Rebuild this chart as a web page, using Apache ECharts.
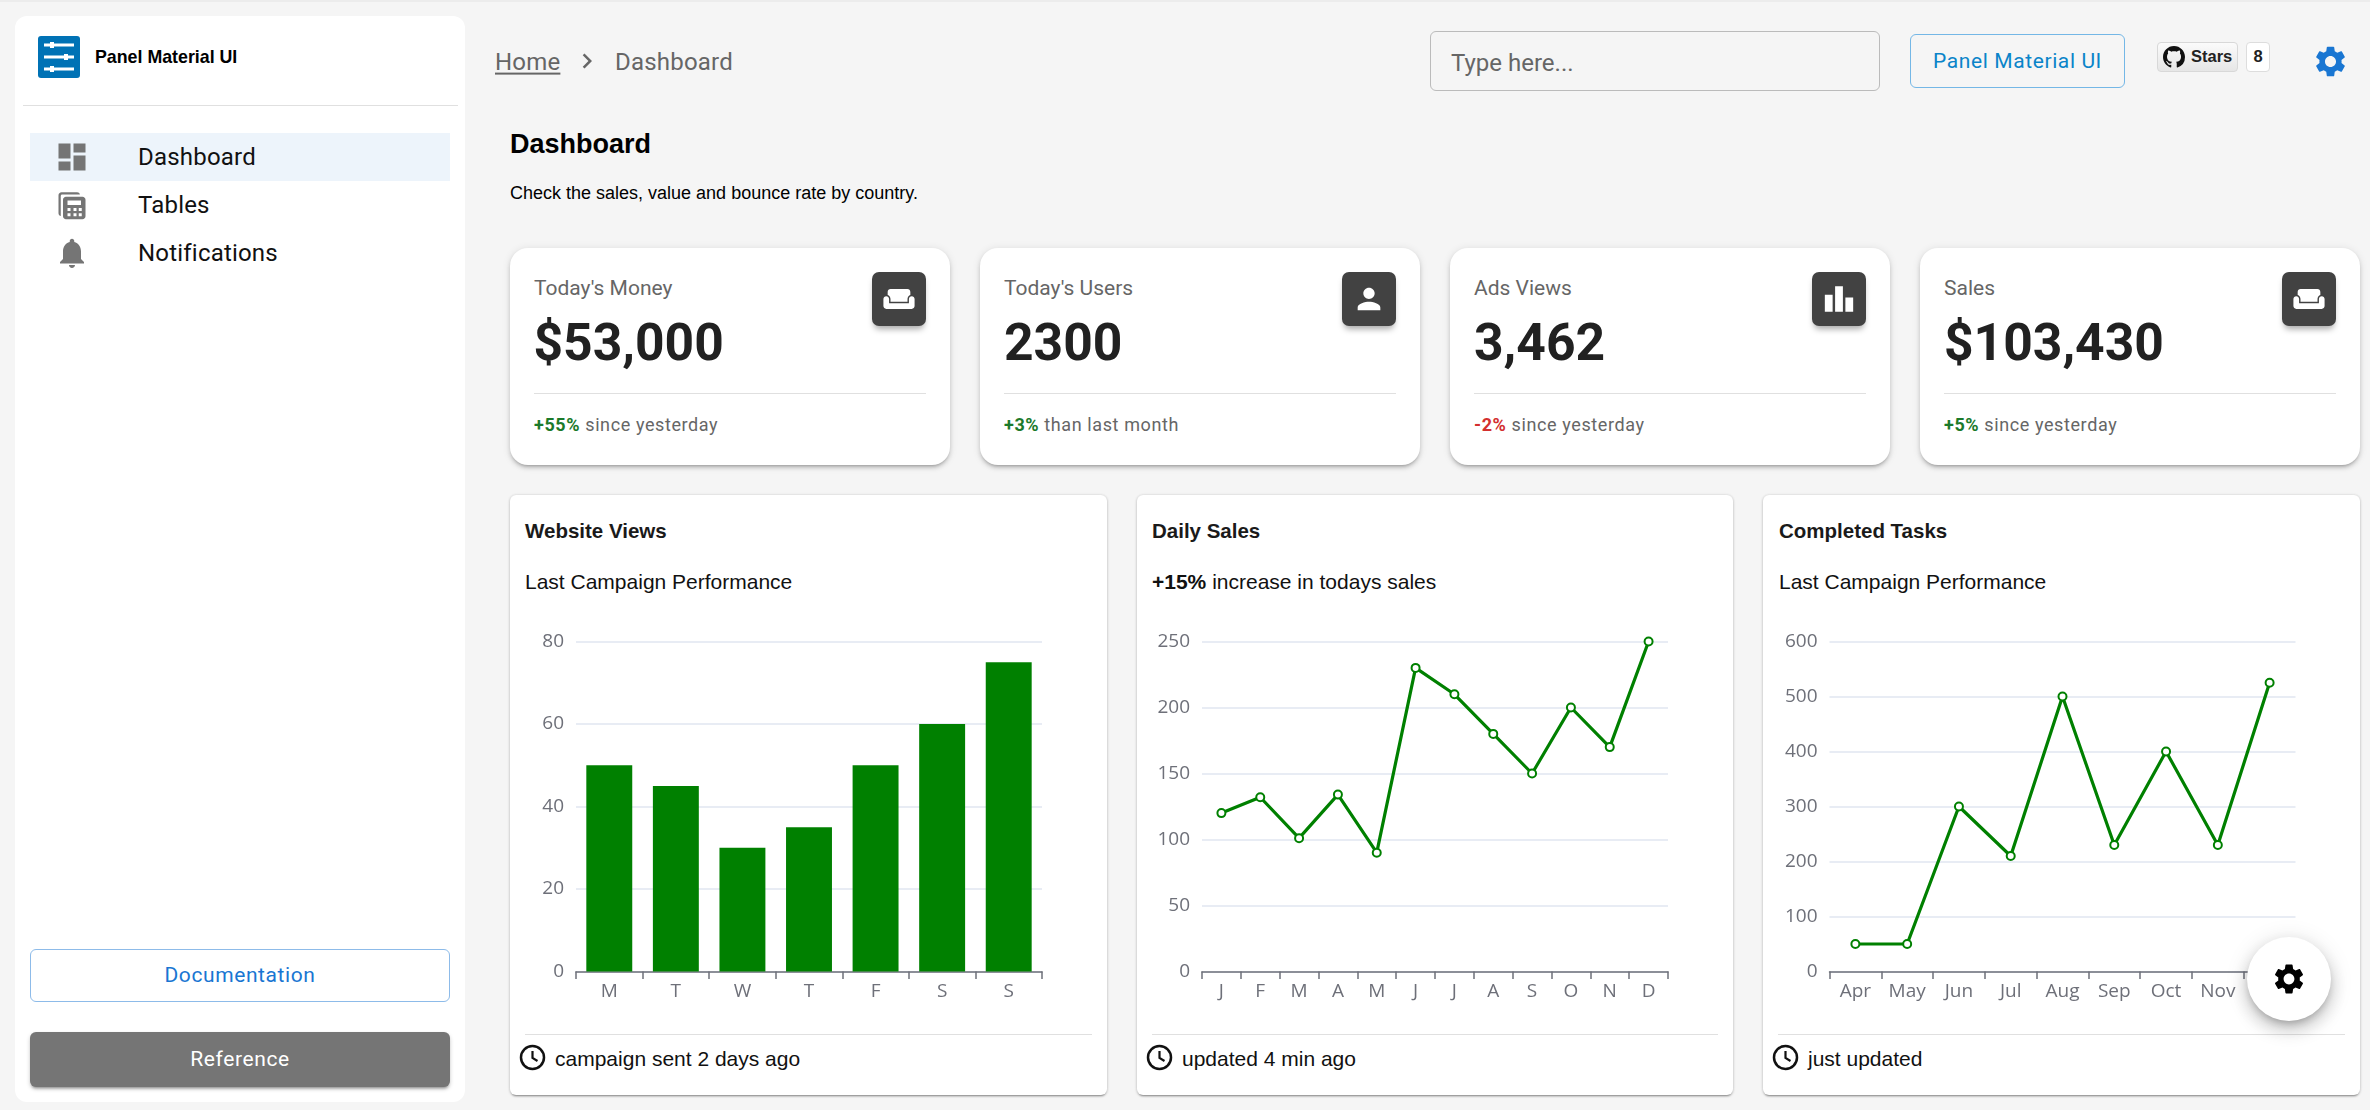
<!DOCTYPE html>
<html><head><meta charset="utf-8"><title>Dashboard</title>
<script src="https://cdn.jsdelivr.net/npm/echarts@6/dist/echarts.min.js"></script>
<style>
html,body{margin:0;padding:0;width:2370px;height:1110px;overflow:hidden;background:#f5f5f5;font-family:Roboto,sans-serif}
#top{position:absolute;left:0;top:0;width:2370px;height:2px;background:#ececec}
.a{position:absolute}
.t{position:absolute;white-space:nowrap;transform:translateY(-50%);line-height:1.2}
.ar{font-family:"Liberation Sans",Arial,sans-serif}
.box{position:absolute;background:#fff;box-sizing:border-box}
.stat{top:248px;height:217px;width:440px;border-radius:18px;box-shadow:0 3px 3px -2px rgba(0,0,0,.22),0 3px 4px 0 rgba(0,0,0,.14),0 1px 8px 0 rgba(0,0,0,.1)}
.ccard{top:495px;height:600px;border-radius:6px;box-shadow:0 3px 2px -2px rgba(0,0,0,.3),0 1px 3px 0 rgba(0,0,0,.2),0 0 3px 0 rgba(0,0,0,.1)}
.line{position:absolute;height:1px;background:#e0e0e0}
.ibox{position:absolute;top:272px;width:54px;height:54px;background:#424242;border-radius:7px;box-shadow:0 5px 6px -2px rgba(0,0,0,.35)}
.ibox svg{position:absolute;left:10px;top:10px;width:34px;height:34px;fill:#fff}
.nav svg{position:absolute;fill:#757575}
.chart{position:absolute}
.m{font-size:24px;color:#111;letter-spacing:.2px}
.slab{font-size:21px;color:#666;top:289px}
.sval{font-size:51.6px;font-weight:700;color:#212121;top:343px}
.sfoot{font-size:18px;color:#666;top:425px;letter-spacing:.6px}
.up{color:#1b7a2b;font-weight:700}.dn{color:#d32f2f;font-weight:700}
.ctitle{font-size:20.5px;font-weight:700;color:#1a1a1a;top:531px}
.csub{font-size:21px;color:#111;top:582px}
.cfoot{font-size:21px;color:#111;top:1059px}
.clock{position:absolute;top:1044px;width:27px;height:27px}
</style></head><body>
<div id="top"></div>

<!-- sidebar -->
<div class="box nav" style="left:15px;top:16px;width:450px;height:1086px;border-radius:12px">
</div>
<div class="a" style="left:38px;top:36px;width:42px;height:42px;background:#0072b5;border-radius:3px">
<svg viewBox="0 0 42 42" width="42" height="42"><g stroke="#fff" stroke-width="3"><path d="M6 9h30M6 21h30M6 33h30"/></g><g fill="#fff"><rect x="12" y="6" width="4" height="6"/><rect x="26" y="18" width="4" height="6"/><rect x="12" y="30" width="4" height="6"/></g></svg></div>
<div class="t ar" style="left:95px;top:58px;font-size:17.8px;font-weight:700;color:#000">Panel Material UI</div>
<div class="line" style="left:23px;top:105px;width:435px"></div>
<div class="a" style="left:30px;top:133px;width:420px;height:48px;background:#edf4fb"></div>
<div class="nav">
<svg style="left:54px;top:139px;width:36px;height:36px" viewBox="0 0 24 24"><path d="M3 13h8V3H3v10zm0 8h8v-6H3v6zm10 0h8V11h-8v10zm0-18v6h8V3h-8z"/></svg>
<svg style="left:54px;top:187px;width:36px;height:36px" viewBox="0 0 24 24"><path d="M5 3.5C3.9 3.5 3 4.4 3 5.5v12c0 .9.6 1.7 1.5 1.9V6c0-.6.4-1 1-1h11.800c-.2-.9-1-1.500-1.900-1.500H5z"/><path fill-rule="evenodd" d="M8 6.500h11c1.100 0 2 .9 2 2v11c0 1.100-.9 2-2 2H8c-1.100 0-2-.9-2-2v-11c0-1.100.9-2 2-2zM9 9v3h9V9H9zm0 5v2h2v-2H9zm4 0v2h2v-2h-2zm3.500 0v2h2v-2h-2zM9 17.500v2h2v-2H9zm4 0v2h2v-2h-2zm3.500 0v2h2v-2h-2z"/></svg>
<svg style="left:54px;top:235px;width:36px;height:36px" viewBox="0 0 24 24"><path d="M12 22c1.100 0 2-.9 2-2h-4c0 1.100.89 2 2 2zm6-6v-5c0-3.070-1.640-5.640-4.500-6.320V4c0-.83-.67-1.500-1.500-1.500s-1.500.67-1.500 1.500v.68C7.630 5.360 6 7.920 6 11v5l-2 2v1h16v-1l-2-2z"/></svg>
</div>
<div class="t m" style="left:138px;top:157px">Dashboard</div>
<div class="t m" style="left:138px;top:205px">Tables</div>
<div class="t m" style="left:138px;top:253px">Notifications</div>
<div class="a" style="left:30px;top:949px;width:420px;height:53px;box-sizing:border-box;border:1.5px solid #8dbbe9;border-radius:6px;text-align:center;line-height:50px;font-size:21px;color:#1976d2;letter-spacing:.6px;font-weight:400">Documentation</div>
<div class="a" style="left:30px;top:1032px;width:420px;height:55px;background:#757575;border-radius:6px;text-align:center;line-height:55px;font-size:21px;color:#fff;letter-spacing:.6px;box-shadow:0 3px 3px -2px rgba(0,0,0,.35),0 2px 4px 0 rgba(0,0,0,.2)">Reference</div>

<!-- header -->
<div class="t" style="left:495px;top:61.5px;font-size:24px;color:#666;letter-spacing:.2px;text-decoration:underline;text-underline-offset:3px">Home</div>
<svg class="a" style="left:572px;top:46px;width:30px;height:30px;fill:#666" viewBox="0 0 24 24"><path d="M10 6 8.590 7.410 13.170 12l-4.580 4.590L10 18l6-6z"/></svg>
<div class="t" style="left:615px;top:61.5px;font-size:24px;color:#666;letter-spacing:.2px">Dashboard</div>
<div class="a" style="left:1430px;top:31px;width:450px;height:60px;box-sizing:border-box;border:1.5px solid #bbb;border-radius:6px"></div>
<div class="t" style="left:1451px;top:62.5px;font-size:24px;color:#666">Type here...</div>
<div class="a" style="left:1910px;top:34px;width:215px;height:54px;box-sizing:border-box;border:1.5px solid #74b7e6;border-radius:6px;text-align:center;line-height:53px;font-size:21px;color:#0a84c9;letter-spacing:.6px">Panel Material UI</div>
<div class="a" style="left:2157px;top:42px;width:81px;height:30px;box-sizing:border-box;border:1.5px solid #d8d8d8;border-radius:4px;background:linear-gradient(#fbfbfb,#e6e6e6)"></div>
<svg class="a" style="left:2163px;top:46px;width:22px;height:22px;fill:#111" viewBox="0 0 16 16"><path d="M8 0C3.580 0 0 3.580 0 8c0 3.540 2.290 6.530 5.470 7.590.4.070.55-.17.55-.38 0-.19-.01-.82-.01-1.490-2.010.37-2.530-.49-2.690-.94-.09-.23-.48-.94-.82-1.130-.28-.15-.68-.52-.01-.53.63-.01 1.080.58 1.230.82.72 1.210 1.870.87 2.330.66.07-.52.28-.87.51-1.070-1.780-.2-3.640-.89-3.640-3.950 0-.87.31-1.590.82-2.150-.08-.2-.36-1.020.08-2.120 0 0 .67-.21 2.200.82.64-.18 1.320-.27 2-.27.68 0 1.360.09 2 .27 1.530-1.040 2.200-.82 2.200-.82.44 1.100.16 1.920.08 2.120.51.56.82 1.270.82 2.150 0 3.070-1.870 3.750-3.650 3.950.29.25.54.73.54 1.480 0 1.070-.01 1.930-.01 2.200 0 .21.15.46.55.38A8.013 8.013 0 0 0 16 8c0-4.420-3.580-8-8-8z"/></svg>
<div class="t ar" style="left:2191px;top:57px;font-size:16.500px;font-weight:700;color:#222">Stars</div>
<div class="a" style="left:2246px;top:42px;width:24px;height:30px;box-sizing:border-box;border:1.5px solid #ddd;border-radius:4px;background:#fff;text-align:center;line-height:27px;font-family:'Liberation Sans';font-size:16.500px;font-weight:700;color:#222">8</div>
<svg class="a" style="left:2311.5px;top:42.5px;width:37px;height:37px;fill:#1976d2" viewBox="0 0 24 24"><path id="gearP" d="M19.140 12.940c.04-.3.06-.61.06-.94 0-.32-.02-.64-.07-.94l2.030-1.580c.18-.14.23-.41.12-.61l-1.920-3.320c-.12-.22-.37-.29-.59-.22l-2.390.96c-.5-.38-1.030-.7-1.620-.94l-.36-2.540c-.04-.24-.24-.41-.48-.41h-3.840c-.24 0-.43.17-.47.41l-.36 2.540c-.59.24-1.130.57-1.620.94l-2.390-.96c-.22-.08-.47 0-.59.22L2.740 8.870c-.12.21-.08.47.12.61l2.030 1.580c-.05.3-.09.63-.09.94s.02.64.07.94l-2.030 1.580c-.18.14-.23.41-.12.61l1.920 3.320c.12.22.37.29.59.22l2.390-.96c.5.38 1.030.7 1.620.94l.36 2.540c.05.24.24.41.48.41h3.840c.24 0 .44-.17.47-.41l.36-2.540c.59-.24 1.130-.56 1.620-.94l2.390.96c.22.08.47 0 .59-.22l1.920-3.320c.12-.22.07-.47-.12-.61l-2.010-1.580zM12 15.600c-1.980 0-3.600-1.620-3.600-3.600s1.620-3.600 3.600-3.600 3.600 1.620 3.600 3.600-1.620 3.600-3.600 3.600z"/></svg>

<div class="t ar" style="left:510px;top:144px;font-size:27px;font-weight:700;color:#000">Dashboard</div>
<div class="t ar" style="left:510px;top:194px;font-size:18px;color:#000">Check the sales, value and bounce rate by country.</div>

<!-- stat cards -->
<div class="box stat" style="left:510px"></div>
<div class="box stat" style="left:980px"></div>
<div class="box stat" style="left:1450px"></div>
<div class="box stat" style="left:1920px"></div>

<div class="t slab" style="left:534px">Today's Money</div>
<div class="t sval" style="left:533.5px">$53,000</div>
<div class="line" style="left:534px;top:393px;width:392px"></div>
<div class="t sfoot" style="left:534px"><span class="up">+55%</span> since yesterday</div>
<div class="ibox" style="left:872px"><svg viewBox="0 0 24 24"><path id="couch" d="M21 10c-1.100 0-2 .9-2 2v3H5v-3c0-1.100-.9-2-2-2s-2 .9-2 2v5c0 1.100.9 2 2 2h18c1.100 0 2-.9 2-2v-5c0-1.100-.9-2-2-2zm-3-5H6c-1.100 0-2 .9-2 2v2.150c1.160.41 2 1.510 2 2.820V14h12v-2.030c0-1.300.84-2.400 2-2.820V7c0-1.100-.9-2-2-2z"/></svg></div>

<div class="t slab" style="left:1004px">Today's Users</div>
<div class="t sval" style="left:1004px">2300</div>
<div class="line" style="left:1004px;top:393px;width:392px"></div>
<div class="t sfoot" style="left:1004px"><span class="up">+3%</span> than last month</div>
<div class="ibox" style="left:1342px"><svg viewBox="0 0 24 24"><path d="M12 12c2.210 0 4-1.790 4-4s-1.790-4-4-4-4 1.790-4 4 1.790 4 4 4zm0 2c-2.670 0-8 1.340-8 4v2h16v-2c0-2.660-5.330-4-8-4z"/></svg></div>

<div class="t slab" style="left:1474px">Ads Views</div>
<div class="t sval" style="left:1474px">3,462</div>
<div class="line" style="left:1474px;top:393px;width:392px"></div>
<div class="t sfoot" style="left:1474px"><span class="dn">-2%</span> since yesterday</div>
<div class="ibox" style="left:1812px"><svg viewBox="0 0 24 24"><path d="M7.500 21H2V9h5.500v12zm7.250-18h-5.500v18h5.500V3zM22 11h-5.500v10H22V11z"/></svg></div>

<div class="t slab" style="left:1944px">Sales</div>
<div class="t sval" style="left:1944px">$103,430</div>
<div class="line" style="left:1944px;top:393px;width:392px"></div>
<div class="t sfoot" style="left:1944px"><span class="up">+5%</span> since yesterday</div>
<div class="ibox" style="left:2282px"><svg viewBox="0 0 24 24"><use href="#couch"/></svg></div>

<!-- chart cards -->
<div class="box ccard" style="left:510px;width:597px"></div>
<div class="box ccard" style="left:1137px;width:596px"></div>
<div class="box ccard" style="left:1763px;width:597px"></div>

<div class="t ar ctitle" style="left:525px">Website Views</div>
<div class="t ar csub" style="left:525px">Last Campaign Performance</div>
<div class="t ar ctitle" style="left:1152px">Daily Sales</div>
<div class="t ar csub" style="left:1152px"><b>+15%</b> increase in todays sales</div>
<div class="t ar ctitle" style="left:1779px">Completed Tasks</div>
<div class="t ar csub" style="left:1779px">Last Campaign Performance</div>

<div class="chart" id="c1" style="left:510px;top:610px;width:597px;height:420px"></div>
<div class="chart" id="c2" style="left:1137px;top:610px;width:596px;height:420px"></div>
<div class="chart" id="c3" style="left:1763px;top:610px;width:597px;height:420px"></div>

<div class="line" style="left:525px;top:1034px;width:567px"></div>
<div class="line" style="left:1152px;top:1034px;width:566px"></div>
<div class="line" style="left:1778px;top:1034px;width:567px"></div>

<svg class="clock" style="left:519px" viewBox="0 0 27 27"><circle cx="13.500" cy="13.500" r="11.500" fill="none" stroke="#111" stroke-width="2.500"/><path d="M13.500 7v7l5 3" fill="none" stroke="#111" stroke-width="2.200"/></svg>
<svg class="clock" style="left:1146px" viewBox="0 0 27 27"><circle cx="13.500" cy="13.500" r="11.500" fill="none" stroke="#111" stroke-width="2.500"/><path d="M13.500 7v7l5 3" fill="none" stroke="#111" stroke-width="2.200"/></svg>
<svg class="clock" style="left:1772px" viewBox="0 0 27 27"><circle cx="13.500" cy="13.500" r="11.500" fill="none" stroke="#111" stroke-width="2.500"/><path d="M13.500 7v7l5 3" fill="none" stroke="#111" stroke-width="2.200"/></svg>
<div class="t ar cfoot" style="left:555px">campaign sent 2 days ago</div>
<div class="t ar cfoot" style="left:1182px">updated 4 min ago</div>
<div class="t ar cfoot" style="left:1808px">just updated</div>

<!-- floating button -->
<div class="a" style="left:2247px;top:937px;width:84px;height:84px;border-radius:50%;background:#fff;z-index:5;box-shadow:0 5px 8px -3px rgba(0,0,0,.25),0 9px 18px 1px rgba(0,0,0,.16),0 3px 22px 2px rgba(0,0,0,.1)">
<svg style="position:absolute;left:24px;top:24px;width:36px;height:36px;fill:#000" viewBox="0 0 24 24"><use href="#gearP"/></svg></div>

<script>
const weekDays = ['M','T','W','T','F','S','S'];
const websiteViews = [50,45,30,35,50,60,75];
const monthInitials = ['J','F','M','A','M','J','J','A','S','O','N','D'];
const dailySales = [120,132,101,134,90,230,210,180,150,200,170,250];
const taskMonths = ['Apr','May','Jun','Jul','Aug','Sep','Oct','Nov','Dec'];
const completedTasks = [50,50,300,210,500,230,400,230,525];
const GREEN = '#008000';
const LABEL = '#6E7079';

function baseOption(cats, grid, max, interval){
  return {
    animation:false,
    textStyle:{fontFamily:'"Open Sans",sans-serif'},
    grid:grid,
    xAxis:{type:'category',data:cats,boundaryGap:true,
      axisLine:{lineStyle:{color:LABEL,width:1.5}},
      axisTick:{show:true,length:7.5,alignWithLabel:false,lineStyle:{color:LABEL,width:1.5}},
      axisLabel:{color:LABEL,fontSize:19,margin:11,interval:0,fontFamily:'"Open Sans",sans-serif'}},
    yAxis:{type:'value',min:0,max:max,interval:interval,
      axisLine:{show:false},axisTick:{show:false},
      splitLine:{lineStyle:{color:'#E0E6F1',width:1.5}},
      axisLabel:{color:LABEL,fontSize:19,margin:12,padding:[0,0,5,0],fontFamily:'"Open Sans",sans-serif'}}
  };
}
function lineSeries(values){
  return [{type:'line',data:values,symbol:'emptyCircle',symbolSize:8,showSymbol:true,
    lineStyle:{color:GREEN,width:3.2},itemStyle:{color:GREEN,borderColor:GREEN,borderWidth:2.5}}];
}
const c1 = echarts.init(document.getElementById('c1'));
c1.setOption(Object.assign(baseOption(weekDays,{left:66,top:31.500,width:466,height:330},80,20),{
  series:[{type:'bar',data:websiteViews,barWidth:'69%',itemStyle:{color:GREEN}}]}));
const c2 = echarts.init(document.getElementById('c2'));
c2.setOption(Object.assign(baseOption(monthInitials,{left:65,top:31.500,width:466,height:330},250,50),{
  series:lineSeries(dailySales)}));
const c3 = echarts.init(document.getElementById('c3'));
c3.setOption(Object.assign(baseOption(taskMonths,{left:66.500,top:31.500,width:466,height:330},600,100),{
  series:lineSeries(completedTasks)}));
</script>
</body></html>
